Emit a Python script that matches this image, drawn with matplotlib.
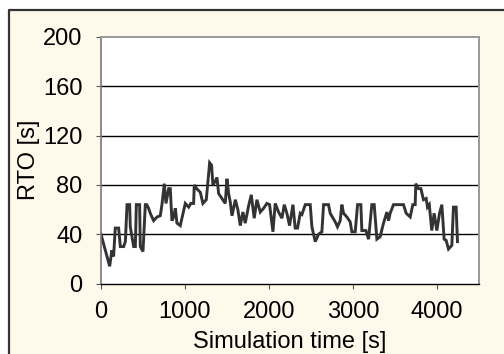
import matplotlib

matplotlib.use("Agg")
import matplotlib.pyplot as plt
from matplotlib.patches import Rectangle
from matplotlib.lines import Line2D

# simulation time [s] and RTO [s]
time_s = [0, 103, 130, 150, 170, 210, 230, 270, 290, 310, 341, 349, 389, 409, 421,
          460, 468, 500, 528, 545, 567, 587, 627, 667, 706, 726, 754, 774, 806, 825,
          845, 865, 885, 905, 944, 1004, 1044, 1070, 1103, 1111, 1140, 1183, 1214,
          1254, 1294, 1317, 1333, 1361, 1381, 1401, 1440, 1480, 1500, 1520, 1540,
          1560, 1600, 1630, 1659, 1690, 1718, 1758, 1790, 1825, 1857, 1897, 1936,
          1976, 2008, 2048, 2075, 2115, 2155, 2183, 2214, 2246, 2286, 2313, 2341,
          2373, 2393, 2433, 2492, 2512, 2552, 2591, 2631, 2651, 2710, 2730, 2790,
          2817, 2849, 2869, 2889, 2929, 2968, 2988, 3028, 3056, 3095, 3107, 3155,
          3187, 3226, 3254, 3286, 3325, 3365, 3405, 3425, 3444, 3484, 3603, 3635,
          3683, 3714, 3742, 3750, 3782, 3810, 3841, 3873, 3889, 3910, 3940, 3968,
          4000, 4032, 4060, 4087, 4111, 4139, 4179, 4198, 4230, 4246]
rto_s = [40, 14, 27, 22, 45, 45, 30, 30, 34, 64, 64, 46, 30, 30, 64,
         64, 30, 26, 64, 64, 61, 57, 51, 54, 55, 64, 81, 65, 77, 77,
         51, 54, 61, 49, 47, 65, 62, 65, 65, 80, 77, 74, 65,
         68, 98, 96, 80, 83, 86, 73, 69, 65, 85, 73, 66,
         55, 68, 60, 47, 58, 49, 63, 72, 53, 68, 58, 61,
         65, 64, 42, 65, 58, 53, 64, 57, 47, 64, 45, 45,
         57, 56, 64, 64, 46, 34, 40, 42, 64, 64, 57, 50,
         46, 51, 64, 57, 54, 50, 42, 42, 64, 64, 43, 43,
         36, 64, 64, 36, 38, 49, 58, 51, 57, 64, 64, 57,
         54, 64, 64, 81, 77, 77, 68, 69, 62, 64, 43, 57,
         43, 57, 64, 36, 35, 28, 31, 62, 62, 34]

x_ticks = [0, 1000, 2000, 3000, 4000]
y_ticks = [0, 40, 80, 120, 160, 200]

plt.rcParams["font.family"] = ["Liberation Sans", "DejaVu Sans"]

fig = plt.figure(figsize=(5.04, 3.54), dpi=100)
fig.patch.set_facecolor("white")
# cream panel; its frame shows only on the top and left edges
fig.patches.append(Rectangle((0.017, 0), 0.983, 0.972, transform=fig.transFigure,
                             facecolor="#fff9ec", edgecolor="none", zorder=-2))
frame_x = [0.017, 0.017, 1.0]
frame_y = [0.0, 0.972, 0.972]
fig.lines.append(Line2D(frame_x, frame_y, transform=fig.transFigure,
                        color="#333333", lw=1.6, zorder=-1))

ax = fig.add_axes([0.2004, 0.199, 0.7496, 0.6965])
ax.set_facecolor("white")
ax.plot(time_s, rto_s, color="#333333", lw=2.1, solid_joinstyle="miter")

ax.set_xlim(0, 4500)
ax.set_ylim(0, 200)
ax.set_xticks(x_ticks)
ax.set_yticks(y_ticks)
ax.tick_params(labelsize=17, length=3.5, color="#555555", direction="out")
ax.tick_params(axis="x", pad=9)
ax.tick_params(axis="y", pad=10)
for y in y_ticks[1:-1]:
    ax.axhline(y, color="black", lw=1.0, zorder=0)
for side in ["top", "right"]:
    ax.spines[side].set_color("#999999")
    ax.spines[side].set_linewidth(1.4)
ax.spines["left"].set_color("#777777")
ax.spines["left"].set_linewidth(1.2)
ax.spines["bottom"].set_color("black")
ax.spines["bottom"].set_linewidth(1.0)

ax.set_xlabel("Simulation time [s]", fontsize=17, labelpad=6)
ax.set_ylabel("RTO [s]", fontsize=17, labelpad=2)

fig.savefig("out.png", dpi=100)
